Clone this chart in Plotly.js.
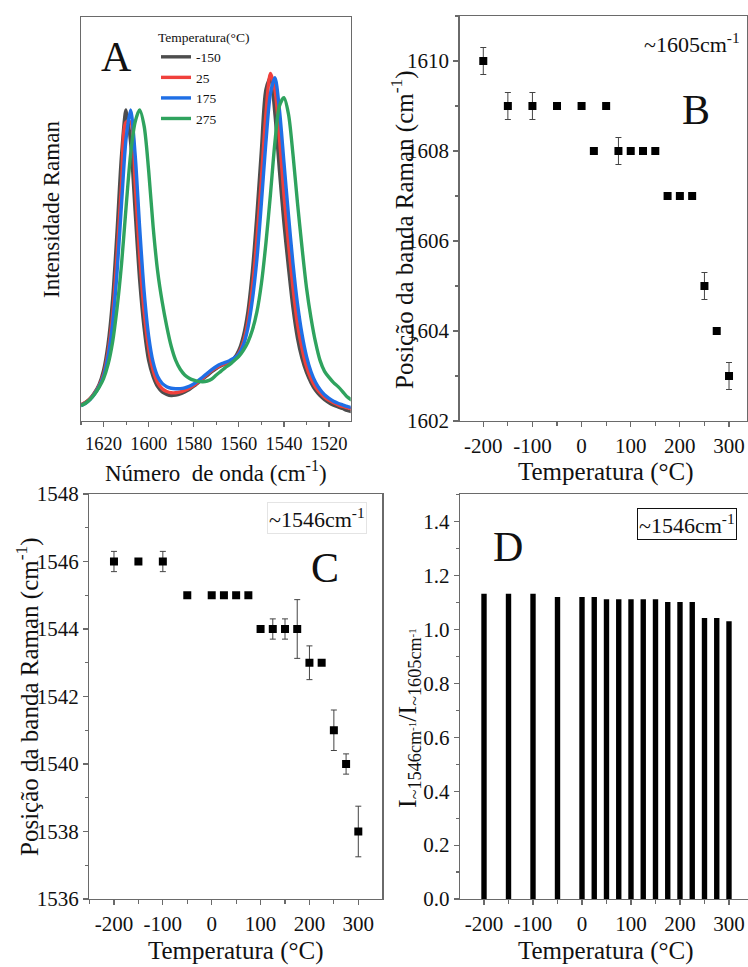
<!DOCTYPE html>
<html>
<head>
<meta charset="utf-8">
<script src="https://cdn.plot.ly/plotly-3.0.1.min.js"></script>
<style>html,body{margin:0;padding:0;background:#fff;}#chart{width:748px;height:967px;}</style>
</head>
<body>
<div id="chart"></div>
<script>
// ---------- Data ----------
// Panel A: Raman spectra (wavenumber grid, cm-1)
const wavenumber = [1630,1628,1626,1624,1622,1620,1618,1616,1614,1612,1610,1608,1606,1604,1602,1600,1598,1596,1594,1592,1590,1588,1586,1584,1582,1580,1578,1576,1574,1572,1570,1568,1566,1564,1562,1560,1558,1556,1554,1552,1550,1548,1546,1544,1542,1540,1538,1536,1534,1532,1530,1528,1526,1524,1522,1520,1518,1516,1514,1512,1510];
const spectrumNeg150 = [4.0,4.6,5.5,7.0,9.0,12.5,19,30,47,66,77,69,52,35,23,15,11,8.5,7.2,6.6,6.3,6.4,6.7,7.2,7.8,8.6,9.5,10.4,11.3,12.2,13.0,13.6,14.1,14.7,15.6,17.5,21,27,37,51,67,82,85,76,62,49,38,28,20.5,15.5,12,9.5,7.6,6.3,5.3,4.5,3.9,3.5,3.1,2.6,2.3];
const spectrum25 = [4.0,4.6,5.5,6.9,8.7,11.5,17,26,41,59,74,74,59,41,27,18,12.5,9.5,8.0,7.3,7.0,7.0,7.2,7.6,8.1,8.8,9.7,10.6,11.6,12.5,13.2,13.8,14.2,14.7,15.4,16.8,19.5,24.5,33,45,60,76,86,82,70,56,44,33,24,18,13.5,10.5,8.4,7.0,5.9,5.1,4.5,4.0,3.6,3.3,3.0];
const spectrum175 = [3.8,4.4,5.3,6.7,8.5,11,16,24,37,54,70,77,66,48,32,21,14.5,11,9.3,8.5,8.1,8.0,8.0,8.2,8.6,9.2,10.0,10.9,11.8,12.7,13.5,14.1,14.5,15.0,15.6,16.6,18.8,23,30,40,54,69,81,85,77,64,51,39,29,21.5,16,12.2,9.6,7.8,6.5,5.6,4.9,4.4,4.0,3.6,3.3];
const spectrum275 = [3.8,4.4,5.3,6.6,8.3,10.5,14,19.5,28,39,53,66,74,77,73,62,48,37,29.5,23.5,18.5,15,12.8,11.4,10.6,10.1,9.8,9.7,9.9,10.4,11.4,12.3,13.2,14.0,15.0,16.0,17.5,19.5,22.5,27,34,44,56,69,78,80,76,66,54,43,33,25.5,19.5,15,12.3,10.8,9.5,8.5,7.3,6.0,5.2];
const spectrumLabels = ['-150','25','175','275'];

// Panels B, C, D: temperature series (°C)
const temperatures = [-200,-150,-100,-50,0,25,50,75,100,125,150,175,200,225,250,275,300];
const band1605 = [1610,1609,1609,1609,1609,1608,1609,1608,1608,1608,1608,1607,1607,1607,1605,1604,1603];
const band1605Err = [0.3,0.3,0.3,0,0,0,0,0.3,0,0,0,0,0,0,0.3,0,0.3];
const band1546 = [1546,1546,1546,1545,1545,1545,1545,1545,1544,1544,1544,1544,1543,1543,1541,1540,1538];
const band1546Err = [0.3,0,0.3,0,0,0,0,0,0,0.3,0.3,0.87,0.5,0,0.6,0.3,0.75];
const intensityRatio = [1.133,1.133,1.133,1.121,1.121,1.121,1.112,1.112,1.112,1.112,1.112,1.102,1.102,1.102,1.043,1.043,1.031];

// Tick labels for temperature axes (hyphen minus, as in the original)
const tempTickVals = [-200,-100,0,100,200,300];
const tempTickText = ['-200','-100','0','100','200','300'];

// ---------- Styling ----------
const W = 748, H = 967;
const SERIF = 'Liberation Serif';
const px = v => v / W;
const py = v => 1 - v / H;
const lineColors = ['#4d4d4d', '#f0403c', '#1f6fe6', '#2fa35e'];
const spectra = [spectrumNeg150, spectrum25, spectrum175, spectrum275];

const traces = [];
spectra.forEach((s, i) => {
  traces.push({
    type: 'scatter', mode: 'lines', x: wavenumber, y: s, name: spectrumLabels[i],
    xaxis: 'x', yaxis: 'y', line: {color: lineColors[i], width: 3.4, shape: 'spline', smoothing: 0.8},
    showlegend: true
  });
});
traces.push({
  type: 'scatter', mode: 'markers', x: temperatures, y: band1605, xaxis: 'x2', yaxis: 'y2',
  marker: {symbol: 'square', size: 8, color: '#000'},
  error_y: {type: 'data', array: band1605Err, visible: true, color: '#444', thickness: 1, width: 3},
  showlegend: false
});
traces.push({
  type: 'scatter', mode: 'markers', x: temperatures, y: band1546, xaxis: 'x3', yaxis: 'y3',
  marker: {symbol: 'square', size: 8, color: '#000'},
  error_y: {type: 'data', array: band1546Err, visible: true, color: '#444', thickness: 1, width: 3},
  showlegend: false
});
traces.push({
  type: 'bar', x: temperatures, y: intensityRatio, xaxis: 'x4', yaxis: 'y4', width: 11,
  marker: {color: '#000', line: {width: 0}}, showlegend: false
});

const axisBase = {
  showline: true, linecolor: '#6a6a6a', linewidth: 1.3, mirror: true,
  showgrid: false, zeroline: false, ticks: 'outside', ticklen: 5, tickwidth: 1.2, tickcolor: '#6a6a6a',
  tickfont: {family: SERIF, size: 21, color: '#111'}
};
function ax(extra) { return Object.assign({}, axisBase, extra); }
const tempTicks = {tickmode: 'array', tickvals: tempTickVals, ticktext: tempTickText,
  minor: {dtick: 50, tick0: 0, ticklen: 4, ticks: 'outside', tickcolor: '#6a6a6a'}};

const yA = [py(421), py(17)], yB = [py(421), py(16)], yCD = [py(899), py(494)];

const layout = {
  width: W, height: H, margin: {l: 0, r: 0, t: 0, b: 0},
  paper_bgcolor: '#fff', plot_bgcolor: '#fff',
  font: {family: SERIF, color: '#111'},
  showlegend: true,
  legend: {
    x: px(156), y: py(24), xanchor: 'left', yanchor: 'top', bgcolor: 'rgba(0,0,0,0)',
    font: {family: SERIF, size: 13.5, color: '#111'}, itemwidth: 30, tracegroupgap: 0,
    title: {text: 'Temperatura(°C)', font: {family: SERIF, size: 13.5, color: '#111'}}
  },
  xaxis: ax({domain: [px(81), px(350.7)], anchor: 'y', range: [1630, 1510.4], tick0: 1620, dtick: 20,
    minor: {dtick: 10, ticklen: 3, ticks: 'outside', tickcolor: '#6a6a6a'}, tickfont: {family: SERIF, size: 18.5, color: '#111'}}),
  yaxis: ax({domain: yA, anchor: 'x', range: [0, 100], showticklabels: false, ticks: ''}),
  xaxis2: ax(Object.assign({domain: [px(459.5), px(747.3)], anchor: 'y2', range: [-248.4, 337.2]}, tempTicks)),
  yaxis2: ax({domain: yB, anchor: 'x2', range: [1602, 1611], tick0: 1602, dtick: 2,
    minor: {dtick: 1, ticklen: 3, ticks: 'outside', tickcolor: '#6a6a6a'}}),
  xaxis3: ax(Object.assign({domain: [px(89.3), px(382.3)], anchor: 'y3', range: [-250.5, 349.1]}, tempTicks)),
  yaxis3: ax({domain: yCD, anchor: 'x3', range: [1536, 1548], tick0: 1536, dtick: 2,
    minor: {dtick: 1, ticklen: 3, ticks: 'outside', tickcolor: '#6a6a6a'}}),
  xaxis4: ax(Object.assign({domain: [px(460), 1], anchor: 'y4', range: [-249, 338.8]}, tempTicks)),
  yaxis4: ax({domain: yCD, anchor: 'x4', range: [0, 1.503], tick0: 0, dtick: 0.2, tickformat: '.1f',
    minor: {dtick: 0.1, ticklen: 3, ticks: 'outside', tickcolor: '#6a6a6a'}}),
  annotations: []
};

function note(text, x, y, size, extra) {
  layout.annotations.push(Object.assign({
    text: text, xref: 'paper', yref: 'paper', x: px(x), y: py(y), xanchor: 'center', yanchor: 'middle',
    showarrow: false, font: {family: SERIF, size: size, color: '#111'}
  }, extra || {}));
}
// panel letters
note('A', 116, 57, 42);
note('B', 696, 110, 42);
note('C', 325, 568, 42);
note('D', 508, 547, 42);
// band labels
note('~1605cm<sup>-1</sup>', 692, 43, 22);
note('~1546cm<sup>-1</sup>', 317, 518, 22, {bordercolor: '#e4e4e4', borderwidth: 1, borderpad: 1});
note('~1546cm<sup>-1</sup>', 687, 524, 22, {bordercolor: '#111', borderwidth: 1, borderpad: 1});
// axis titles
note('Número\u00a0 de onda (cm<sup>-1</sup>)', 216, 471, 23);
note('Temperatura (°C)', 606, 472, 25);
note('Temperatura (°C)', 236, 0, 25, {y: 0, yanchor: 'bottom'});
note('Temperatura (°C)', 606, 0, 25, {y: 0, yanchor: 'bottom'});
note('Intensidade Raman', 51, 209, 23, {textangle: -90});
note('Posição da banda Raman (cm<sup>-1</sup>)', 403, 230, 25, {textangle: -90});
note('Posição da banda Raman (cm<sup>-1</sup>)', 27, 697, 25, {textangle: -90});
note('I<sub>~1546cm</sub><span style="font-size:11px">-1</span>/I<sub>~1605cm</sub><span style="font-size:11px">-1</span>', 409, 718, 26, {textangle: -90});

Plotly.newPlot('chart', traces, layout, {staticPlot: true, displayModeBar: false});
</script>
</body>
</html>
